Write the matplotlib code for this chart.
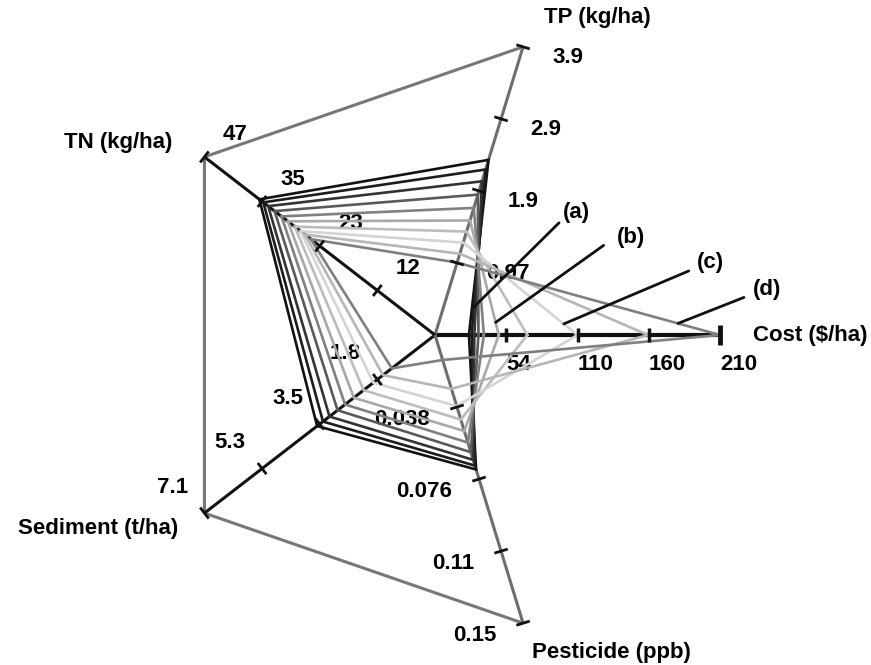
import numpy as np
import matplotlib
matplotlib.use('Agg')
import matplotlib.pyplot as plt

#RADAR PLOT OF COST AGAINST POLLUTANT LOADS FOR THE SCENARIOS

plt.rcParams['font.family'] = ['Liberation Sans', 'DejaVu Sans']
plt.rcParams['font.weight'] = 'bold'
plt.rcParams['font.size'] = 16

# axes of the radar, counter clockwise starting with cost
axis_names = ['Cost ($/ha)', 'TP (kg/ha)', 'TN (kg/ha)', 'Sediment (t/ha)', 'Pesticide (ppb)']
axis_max = [210, 3.9, 47, 7.1, 0.15]
tick_labels = [['54', '110', '160', '210'],
               ['0.97', '1.9', '2.9', '3.9'],
               ['12', '23', '35', '47'],
               ['1.8', '3.5', '5.3', '7.1'],
               ['0.038', '0.076', '0.11', '0.15']]

# scenarios, cheapest first
cost = [25, 27, 29, 32, 36, 47, 68, 105, 157, 210]
tp = [2.37, 2.24, 2.08, 1.9, 1.72, 1.55, 1.4, 1.25, 1.1, 0.98]
tn = [35.8, 35.0, 34.0, 32.7, 31.3, 30.0, 28.6, 27.4, 26.5, 25.3]
sed = [3.63, 3.45, 3.25, 3.0, 2.77, 2.5, 2.2, 1.9, 1.6, 1.33]
pest = [0.070, 0.068, 0.065, 0.061, 0.056, 0.050, 0.044, 0.037, 0.028, 0.013]
line_colors = ['#111111', '#1c1c1c', '#333333', '#5a5a5a', '#808080',
               '#a8a8a8', '#bcbcbc', '#d4d4d4', '#b6b6b6', '#7f7f7f']

callouts = ['(a)', '(b)', '(c)', '(d)']
callout_series = [1, 5, 7, 9]

# layout (pixels): centre of the radar and pixels per unit radius
W, H = 871, 665
CX, CY = 435, 335
SX, SY = 285, 303

angles = np.deg2rad(np.arange(5) * 72.0)


def point(i, value):
    r = value / axis_max[i]
    return r * np.cos(angles[i]), r * np.sin(angles[i])


def perp(i, half):
    # perpendicular in screen space, returned in data units
    ux, uy = SX * np.cos(angles[i]), SY * np.sin(angles[i])
    n = np.hypot(ux, uy)
    px, py = -uy / n, ux / n
    return px * half / SX, py * half / SY


fig = plt.figure(figsize=(W / 100, H / 100), dpi=100)
ax = fig.add_axes([0, 0, 1, 1])
ax.set_xlim(-CX / SX, (W - CX) / SX)
ax.set_ylim(-(H - CY) / SY, CY / SY)
ax.axis('off')

# frame joining the ends of TP, TN, sediment and pesticide
fx, fy = zip(*[point(i, axis_max[i]) for i in [1, 2, 3, 4]])
ax.plot(fx, fy, color='#777777', lw=2.2, zorder=2, solid_capstyle='butt')

# radial axes
axis_colors = ['#111111', '#6e6e6e', '#111111', '#111111', '#6e6e6e']
axis_lw = [3.0, 2.2, 2.2, 2.2, 2.2]
for i in range(5):
    ex, ey = point(i, axis_max[i])
    ax.plot([0, ex], [0, ey], color=axis_colors[i], lw=axis_lw[i], zorder=2,
            solid_capstyle='butt')
    for k in range(1, 5):
        tx, ty = point(i, axis_max[i] * k / 4)
        half = 7
        lw = 2.0
        if i == 0:
            half = 10 if k == 4 else 7
            lw = 3.5 if k == 4 else 2.5
        dx, dy = perp(i, half)
        ax.plot([tx - dx, tx + dx], [ty - dy, ty + dy], color='#111111', lw=lw,
                zorder=4, solid_capstyle='butt')

# tick labels, offsets in pixels (x right, y up)
label_offsets = [(0, -30), (29, -11), (31, 22), (-32, 26), (-27, -12)]
label_ha = ['left', 'left', 'center', 'center', 'right']
for i in range(5):
    for k in range(4):
        tx, ty = point(i, axis_max[i] * (k + 1) / 4)
        ax.annotate(tick_labels[i][k], (tx, ty), xytext=label_offsets[i],
                    textcoords='offset pixels', ha=label_ha[i], va='center',
                    fontweight='bold', zorder=1)

# axis names
name_offsets = [(90, 0), (74, 29), (-86, 14), (-106, -15), (88, -29)]
for i in range(5):
    ex, ey = point(i, axis_max[i])
    ax.annotate(axis_names[i], (ex, ey), xytext=name_offsets[i],
                textcoords='offset pixels', ha='center', va='center',
                fontweight='bold')

# scenario polygons
for s in range(len(cost)):
    vals = [cost[s], tp[s], tn[s], sed[s], pest[s]]
    pts = [point(i, vals[i]) for i in range(5)]
    pts.append(pts[0])
    xs, ys = zip(*pts)
    ax.plot(xs, ys, color=line_colors[s], lw=1.9, zorder=3, solid_joinstyle='miter')

# call-outs on the cost -> TP edge of selected scenarios
edge_frac = [0.17, 0.11, 0.12, 0.16]
leader_offsets = [(85, 84), (108, 77), (125, 53), (66, 26)]
text_offsets = [(17, 10), (27, 8), (22, 8), (23, 8)]
for c in range(4):
    s = callout_series[c]
    x0, y0 = point(0, cost[s])
    x1, y1 = point(1, tp[s])
    f = edge_frac[c]
    xy = (x0 + f * (x1 - x0), y0 + f * (y1 - y0))
    lx, ly = leader_offsets[c]
    ax.annotate('', xy=xy, xytext=(lx, ly), textcoords='offset pixels',
                arrowprops=dict(arrowstyle='-', color='#111111', lw=2.0,
                                shrinkA=0, shrinkB=0), zorder=4)
    ax.annotate(callouts[c], xy, xytext=(lx + text_offsets[c][0], ly + text_offsets[c][1]),
                textcoords='offset pixels', ha='center', va='center', fontweight='bold')

fig.savefig('out.png', dpi=100)
